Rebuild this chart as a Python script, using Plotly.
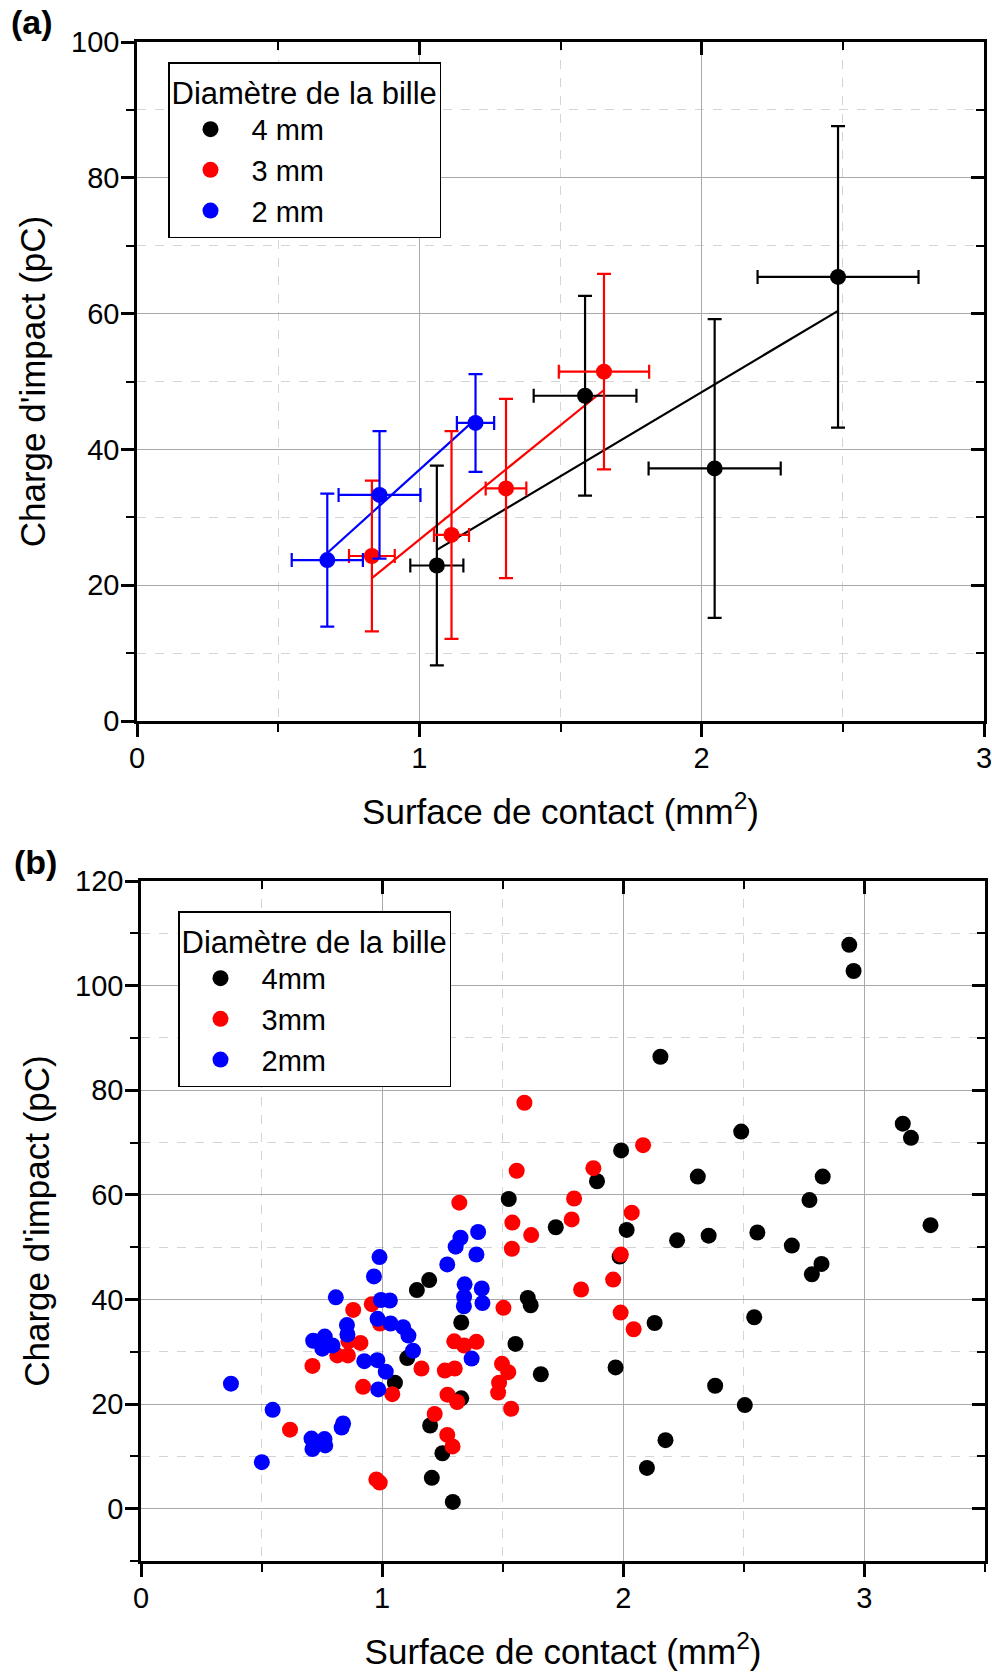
import numpy as np
import plotly.graph_objects as go

# ---------------- Panel (a) data: mean values with error bars ----------------
a4_x = [1.062, 1.587, 2.046, 2.483]
a4_y = [22.9, 47.9, 37.2, 65.4]
a4_xerr = [0.094, 0.182, 0.234, 0.285]
a4_yerr = [14.7, 14.7, 22.0, 22.2]

a3_x = [0.832, 1.114, 1.307, 1.654]
a3_y = [24.3, 27.4, 34.25, 51.45]
a3_xerr = [0.081, 0.062, 0.072, 0.160]
a3_yerr = [11.1, 15.3, 13.2, 14.4]

a2_x = [0.674, 0.859, 1.199]
a2_y = [23.7, 33.3, 43.9]
a2_xerr = [0.126, 0.145, 0.066]
a2_yerr = [9.8, 9.4, 7.2]

# ---------------- Panel (b) data: individual impacts ----------------
b4_x = [2.937, 2.955, 2.154, 3.159, 3.193, 2.489, 1.991, 1.891, 2.309, 2.827,
        2.772, 3.274, 2.014, 2.223, 2.354, 2.556, 2.699, 2.822, 2.782, 1.985,
        1.720, 2.130, 2.543, 1.968, 2.381, 2.504, 2.175, 2.098, 1.525, 1.195,
        1.144, 1.604, 1.616, 1.328, 1.553, 1.658, 1.104, 1.053, 1.328, 1.199,
        1.250, 1.206, 1.293]
b4_y = [107.8, 102.8, 86.4, 73.6, 70.9, 72.1, 68.5, 62.6, 63.5, 63.5,
        59.0, 54.2, 53.3, 51.3, 52.2, 52.8, 50.3, 46.8, 44.8, 48.2,
        53.8, 35.5, 36.6, 27.0, 23.5, 19.8, 13.1, 7.8, 59.2, 43.7,
        41.8, 40.3, 38.9, 35.6, 31.5, 25.7, 28.8, 24.1, 21.1, 15.9,
        10.6, 5.9, 1.3]

b3_x = [1.590, 2.082, 1.876, 1.558, 1.320, 1.796, 1.540, 1.786, 2.035, 1.618,
        1.538, 1.990, 1.958, 1.825, 1.503, 1.989, 2.043, 0.880, 0.957, 0.991,
        0.860, 0.910, 0.814, 0.858, 0.921, 1.042, 0.711, 0.618, 0.976, 0.990,
        1.299, 1.340, 1.391, 1.163, 1.260, 1.301, 1.497, 1.523, 1.485, 1.481,
        1.271, 1.311, 1.535, 1.218, 1.270, 1.292]
b3_y = [77.6, 69.5, 65.1, 64.6, 58.5, 59.3, 54.7, 55.3, 56.6, 52.3,
        49.7, 48.6, 43.8, 41.9, 38.4, 37.5, 34.3, 38.0, 39.1, 35.4,
        32.0, 31.7, 29.3, 29.3, 23.3, 21.9, 27.3, 15.1, 5.6, 5.0,
        32.0, 31.2, 31.9, 26.8, 26.4, 26.8, 27.7, 26.1, 24.1, 22.2,
        21.8, 20.4, 19.1, 18.1, 14.1, 11.9]

b2_x = [0.989, 0.966, 0.808, 0.995, 1.032, 0.981, 1.035, 1.087, 1.109, 0.854,
        0.856, 0.714, 0.762, 0.794, 0.752, 1.128, 0.926, 0.980, 1.015, 0.984,
        1.371, 1.270, 1.305, 1.325, 1.398, 1.391, 1.342, 1.340, 1.339, 1.413,
        1.416, 0.373, 0.546, 0.501, 0.838, 0.832, 0.707, 0.711, 0.761, 0.764]
b2_y = [48.1, 44.4, 40.4, 39.9, 39.8, 36.3, 35.4, 34.7, 33.1, 35.1,
        33.3, 32.1, 32.9, 31.2, 30.6, 30.2, 28.2, 28.4, 26.2, 22.8,
        28.7, 46.7, 50.1, 51.8, 52.9, 48.6, 42.9, 40.5, 38.7, 42.1,
        39.3, 23.9, 18.9, 8.9, 16.3, 15.5, 13.4, 11.4, 13.3, 12.1]

labels_a = ["4 mm", "3 mm", "2 mm"]
labels_b = ["4mm", "3mm", "2mm"]
colors = ["#000000", "#ff0000", "#0000ff"]

FONT = "Arial, Liberation Sans, sans-serif"

fig = go.Figure()

# ---- Panel (a) ----
series_a = [(a4_x, a4_y, a4_xerr, a4_yerr), (a3_x, a3_y, a3_xerr, a3_yerr),
            (a2_x, a2_y, a2_xerr, a2_yerr)]
for (xs, ys, xe, ye), lab, col in zip(series_a, labels_a, colors):
    slope, icpt = np.polyfit(xs, ys, 1)
    xf = np.array([min(xs), max(xs)])
    fig.add_trace(go.Scatter(x=xf, y=slope * xf + icpt, mode="lines",
                             line=dict(color=col, width=2.2), showlegend=False,
                             hoverinfo="skip", xaxis="x", yaxis="y"))
for (xs, ys, xe, ye), lab, col in zip(series_a, labels_a, colors):
    fig.add_trace(go.Scatter(
        x=xs, y=ys, mode="markers", name=lab,
        marker=dict(color=col, size=16, line=dict(width=0)),
        error_x=dict(type="data", array=xe, visible=True, color=col, thickness=2.2, width=7),
        error_y=dict(type="data", array=ye, visible=True, color=col, thickness=2.2, width=7),
        xaxis="x", yaxis="y", legend="legend"))

# ---- Panel (b) ----
series_b = [(b4_x, b4_y), (b3_x, b3_y), (b2_x, b2_y)]
for (xs, ys), lab, col in zip(series_b, labels_b, colors):
    fig.add_trace(go.Scatter(
        x=xs, y=ys, mode="markers", name=lab,
        marker=dict(color=col, size=16, line=dict(width=0)),
        xaxis="x2", yaxis="y2", legend="legend2"))

# ---- Axes ----
L, R, T, B = 137, 7, 42, 111
W, H = 992, 1672
pw, ph = W - L - R, H - T - B

def xdom(x0, x1):
    return [max(0, (x0 - L) / pw), min(1, (x1 - L) / pw)]

def ydom(ytop, ybot):
    return [max(0, (H - B - ybot) / ph), min(1, (H - B - ytop) / ph)]

grid_major = "#a9a9a9"
grid_minor = "#d4d4d4"
tickfont = dict(family=FONT, size=29, color="black")
titlefont = dict(family=FONT, size=35, color="black")

def main_axis(rng, dtick, mdtick, dom, anchor, title, side, standoff_lab, standoff_title):
    return dict(
        range=rng, domain=dom, anchor=anchor, side=side, automargin=False,
        tick0=0, dtick=dtick, ticks="outside", ticklen=13, tickwidth=2.5,
        tickcolor="black", showline=True, linewidth=2.5, linecolor="black",
        showgrid=True, gridcolor=grid_major, gridwidth=1.3, zeroline=False,
        tickfont=tickfont, ticklabelstandoff=standoff_lab, ticklabeloverflow="allow",
        title=dict(text=title, font=titlefont, standoff=standoff_title),
        minor=dict(dtick=mdtick, tick0=0, ticks="outside", ticklen=8, tickwidth=2,
                   tickcolor="black", showgrid=True, gridcolor=grid_minor,
                   griddash="dash", gridwidth=1),
        fixedrange=True)

def mirror_axis(rng, dtick, mdtick, dom, anchor, overlay, side):
    return dict(
        range=rng, domain=dom, anchor=anchor, overlaying=overlay, side=side,
        automargin=False,
        tick0=0, dtick=dtick, ticks="inside", ticklen=13, tickwidth=2.5,
        tickcolor="black", showline=True, linewidth=2.5, linecolor="black",
        showgrid=False, zeroline=False, showticklabels=False,
        minor=dict(dtick=mdtick, tick0=0, ticks="inside", ticklen=8, tickwidth=2,
                   tickcolor="black", showgrid=False),
        fixedrange=True)

xa_dom = xdom(137, 984)
ya_dom = ydom(42, 721)
xb_dom = xdom(141, 985)
yb_dom = ydom(881, 1561)

xtitle = "Surface de contact (mm<sup>2</sup>)"
ytitle = "Charge d'impact (pC)"

legend_common = dict(
    xanchor="left", yanchor="top",
    bgcolor="white", bordercolor="black", borderwidth=1.5,
    font=dict(family=FONT, size=29, color="black"),
    title=dict(text="Diamètre de la bille", font=dict(family=FONT, size=31, color="black")),
    itemwidth=72, tracegroupgap=0, itemsizing="trace")

fig.update_layout(
    width=W, height=H, autosize=False,
    margin=dict(l=L, r=R, t=T, b=B, autoexpand=False),
    paper_bgcolor="white", plot_bgcolor="white",
    font=dict(family=FONT, color="black"),
    xaxis=main_axis([0, 3], 1, 0.5, xa_dom, "y", xtitle, "bottom", -4, 27),
    yaxis=main_axis([0, 100], 20, 10, ya_dom, "x", ytitle, "left", -4, 15),
    xaxis3=mirror_axis([0, 3], 1, 0.5, xa_dom, "y", "x", "top"),
    yaxis3=mirror_axis([0, 100], 20, 10, ya_dom, "x", "y", "right"),
    xaxis2=main_axis([0, 3.5], 1, 0.5, xb_dom, "y2", xtitle, "bottom", -4, 27),
    yaxis2=main_axis([-10, 120], 20, 10, yb_dom, "x2", ytitle, "left", -4, 15),
    xaxis4=mirror_axis([0, 3.5], 1, 0.5, xb_dom, "y2", "x2", "top"),
    yaxis4=mirror_axis([-10, 120], 20, 10, yb_dom, "x2", "y2", "right"),
    legend=dict(x=(168 - L) / pw, y=(H - B - 62) / ph, **legend_common),
    legend2=dict(x=(178 - L) / pw, y=(H - B - 911) / ph, **legend_common),
    annotations=[
        dict(text="<b>(a)</b>", xref="paper", yref="paper",
             x=(9 - L) / pw, y=(H - B - 22) / ph, xanchor="left", yanchor="middle",
             showarrow=False, font=dict(family=FONT, size=34, color="black")),
        dict(text="<b>(b)</b>", xref="paper", yref="paper",
             x=(12 - L) / pw, y=(H - B - 862) / ph, xanchor="left", yanchor="middle",
             showarrow=False, font=dict(family=FONT, size=34, color="black")),
    ],
    showlegend=True,
)

fig.add_trace(go.Scatter(x=[None], y=[None], xaxis="x3", yaxis="y3", showlegend=False, hoverinfo="skip"))
fig.add_trace(go.Scatter(x=[None], y=[None], xaxis="x4", yaxis="y4", showlegend=False, hoverinfo="skip"))

fig.write_html(
    "out.html", config={"displayModeBar": False},
    post_script=("document.body.style.margin='0px';"
                 "document.body.style.overflow='hidden';"
                 "document.documentElement.style.overflow='hidden';"))
